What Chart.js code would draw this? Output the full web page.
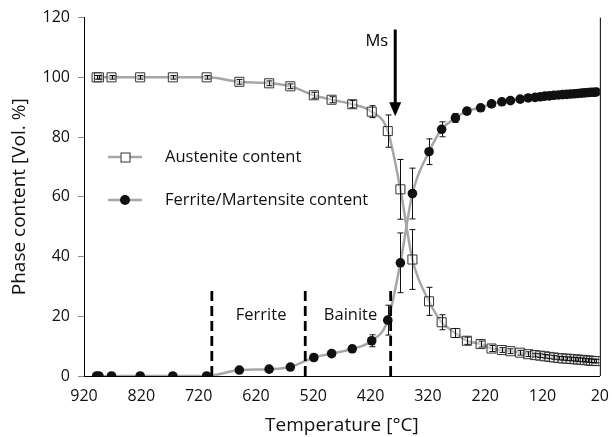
<!DOCTYPE html>
<html>
<head>
<meta charset="utf-8">
<script src="https://cdn.jsdelivr.net/npm/chart.js@4.4.1/dist/chart.umd.min.js"></script>
<style>
  html, body { margin: 0; padding: 0; background: #fff; }
  #wrap { width: 614px; height: 437px; }
</style>
</head>
<body>
<div id="wrap"><canvas id="phaseChart" width="614" height="437"></canvas></div>
<script>
// ── Data ──────────────────────────────────────────
const temps = [898, 894, 872, 822, 765, 706, 649, 597, 560, 519, 488, 452, 418, 390,
  368, 347, 318, 296, 272, 252, 228, 209, 191, 176, 159, 145,
  133, 124, 116, 108, 100, 92, 85, 78, 71, 64, 58, 52, 46, 40, 35, 30, 26];

const austenite = [100, 100, 100, 100, 100, 100, 98.5, 98, 97, 94, 92.5, 91, 88.5, 82,
  62.5, 39, 25, 18, 14.4, 11.8, 10.7, 9.2, 8.7, 8.3, 7.8, 7.3,
  7.0, 6.8, 6.6, 6.4, 6.2, 6.0, 5.9, 5.8, 5.7, 5.6, 5.5, 5.4, 5.3, 5.2, 5.1, 5.0, 5.0];

const ferrite = [0, 0, 0, 0, 0, 0, 2.0, 2.3, 3.0, 6.2, 7.5, 9.1, 11.8, 18.7,
  37.9, 61.1, 75.1, 82.6, 86.4, 88.7, 89.8, 91.1, 91.8, 92.2, 92.7, 93.1,
  93.3, 93.5, 93.7, 93.8, 94.0, 94.1, 94.2, 94.3, 94.4, 94.5, 94.6, 94.7, 94.8, 94.9, 95.0, 95.0, 95.1];

const austeniteErr = [0.6, 0.6, 0.6, 0.6, 0.6, 0.6, 0.8, 0.8, 0.8, 1.0, 1.0, 1.2, 2.0, 5.4,
  10, 10, 4.7, 2.5, 1.5, 1.2, 1.0, 1.0, 0.8, 0.8, 0.8, 0.8,
  0.6, 0.6, 0.6, 0.6, 0.6, 0.6, 0.6, 0.6, 0.6, 0.6, 0.6, 0.6, 0.6, 0.6, 0.6, 0.6, 0.6];

const ferriteErr = [0, 0, 0, 0, 0, 0, 0.5, 0.5, 0.5, 0.8, 0.8, 1.0, 2.0, 5.0,
  10, 8.5, 4.3, 2.5, 1.5, 1.0, 0.8, 0.8, 0.6, 0.6, 0.6, 0.6,
  0.5, 0.5, 0.5, 0.5, 0.5, 0.5, 0.5, 0.5, 0.5, 0.5, 0.5, 0.5, 0.5, 0.5, 0.5, 0.5, 0.5];

const xTicks = [920, 820, 720, 620, 520, 420, 320, 220, 120, 20];
const yTicks = [0, 20, 40, 60, 80, 100, 120];

// transformation boundaries (dashed lines) and region labels
const boundaryTemps = [697, 534, 385];
const boundaryTops = [30, 29, 29];
const regionLabels = ['Ferrite', 'Bainite'];
const regionTemps = [611, 455];
const regionY = [20.3, 20.3];

// Ms arrow
const msTemp = 377;
const msFrom = 116;
const msTo = 87;

const FONT = "'Open Sans', 'Noto Sans', sans-serif";
const LINE_GREY = '#a6a6a6';

const pts = (ys) => temps.map((t, i) => ({ x: t, y: ys[i] }));

// ── Error bars ─────────────────────────────────────
const errorBars = {
  id: 'errorBars',
  afterDatasetsDraw(chart) {
    const { ctx, scales: { x, y } } = chart;
    const sets = [austeniteErr, ferriteErr];
    ctx.save();
    ctx.strokeStyle = '#111';
    ctx.lineWidth = 1;
    chart.data.datasets.forEach((ds, di) => {
      const errs = sets[di];
      ds.data.forEach((p, i) => {
        const e = errs[i];
        if (!e) return;
        const px = Math.round(x.getPixelForValue(p.x)) + 0.5;
        const top = y.getPixelForValue(p.y + e);
        const bot = y.getPixelForValue(p.y - e);
        ctx.beginPath();
        ctx.moveTo(px, top); ctx.lineTo(px, bot);
        ctx.moveTo(px - 3, top); ctx.lineTo(px + 3, top);
        ctx.moveTo(px - 3, bot); ctx.lineTo(px + 3, bot);
        ctx.stroke();
      });
    });
    ctx.restore();
  },
};

// ── Annotations: dashed lines, labels, Ms arrow, legend ──
const annotations = {
  id: 'annotations',
  afterDraw(chart) {
    const { ctx, scales: { x, y }, chartArea } = chart;
    ctx.save();

    // dashed boundaries
    ctx.strokeStyle = '#000';
    ctx.lineWidth = 2.8;
    ctx.setLineDash([10, 5]);
    boundaryTemps.forEach((t, i) => {
      const px = x.getPixelForValue(t);
      ctx.beginPath();
      ctx.moveTo(px, y.getPixelForValue(0));
      ctx.lineTo(px, y.getPixelForValue(boundaryTops[i]));
      ctx.stroke();
    });
    ctx.setLineDash([]);

    // region labels
    ctx.fillStyle = '#111';
    ctx.font = `16.5px ${FONT}`;
    ctx.textAlign = 'center';
    ctx.textBaseline = 'middle';
    regionLabels.forEach((txt, i) => {
      ctx.fillText(txt, x.getPixelForValue(regionTemps[i]), y.getPixelForValue(regionY[i]));
    });

    // Ms arrow
    const ax = x.getPixelForValue(msTemp);
    const ay0 = y.getPixelForValue(msFrom);
    const ay1 = y.getPixelForValue(msTo);
    ctx.strokeStyle = '#000';
    ctx.lineWidth = 3;
    ctx.beginPath();
    ctx.moveTo(ax, ay0); ctx.lineTo(ax, ay1 - 12);
    ctx.stroke();
    ctx.fillStyle = '#000';
    ctx.beginPath();
    ctx.moveTo(ax - 6, ay1 - 14); ctx.lineTo(ax + 6, ay1 - 14); ctx.lineTo(ax, ay1);
    ctx.closePath();
    ctx.fill();
    ctx.font = `16.5px ${FONT}`;
    ctx.textAlign = 'right';
    ctx.fillText('Ms', ax - 7, y.getPixelForValue(112));

    // legend
    const items = chart.data.datasets;
    const lx = chartArea.left + 24;
    const ly = [157, 200];
    items.forEach((ds, i) => {
      ctx.strokeStyle = LINE_GREY;
      ctx.lineWidth = 2.5;
      ctx.beginPath();
      ctx.moveTo(lx, ly[i]); ctx.lineTo(lx + 34, ly[i]);
      ctx.stroke();
      const cx = lx + 17;
      if (i === 0) {
        ctx.fillStyle = '#fff';
        ctx.fillRect(cx - 4.5, ly[i] - 4.5, 9, 9);
        ctx.strokeStyle = '#333';
        ctx.lineWidth = 1;
        ctx.strokeRect(cx - 4.5 + 0.5, ly[i] - 4.5 + 0.5, 9, 9);
      } else {
        ctx.fillStyle = '#111';
        ctx.beginPath();
        ctx.arc(cx, ly[i], 5, 0, Math.PI * 2);
        ctx.fill();
      }
      ctx.fillStyle = '#111';
      ctx.font = `16.5px ${FONT}`;
      ctx.textAlign = 'left';
      ctx.fillText(ds.label, lx + 57, ly[i]);
    });

    // right frame line
    ctx.strokeStyle = '#000';
    ctx.lineWidth = 1;
    ctx.beginPath();
    ctx.moveTo(chartArea.right + 0.5, chartArea.top);
    ctx.lineTo(chartArea.right + 0.5, chartArea.bottom);
    ctx.stroke();

    ctx.restore();
  },
};

new Chart(document.getElementById('phaseChart'), {
  type: 'line',
  data: {
    datasets: [
      {
        label: 'Austenite content',
        data: pts(austenite),
        borderColor: LINE_GREY,
        borderWidth: 2.5,
        pointStyle: 'rect',
        pointRadius: 6.4,
        pointBackgroundColor: 'rgba(255,255,255,0.35)',
        pointBorderColor: '#333',
        pointBorderWidth: 1,
        cubicInterpolationMode: 'monotone',
        fill: false,
        order: 1,
      },
      {
        label: 'Ferrite/Martensite content',
        data: pts(ferrite),
        borderColor: LINE_GREY,
        borderWidth: 2.5,
        pointStyle: 'circle',
        pointRadius: 4.8,
        pointBackgroundColor: '#111',
        pointBorderColor: '#111',
        pointBorderWidth: 0,
        cubicInterpolationMode: 'monotone',
        fill: false,
        order: 0,
      },
    ],
  },
  options: {
    responsive: false,
    animation: false,
    layout: { padding: { top: 10, right: 9, left: 8, bottom: 0 } },
    plugins: {
      legend: { display: false },
      tooltip: { enabled: false },
    },
    scales: {
      x: {
        type: 'linear',
        reverse: true,
        min: 20,
        max: 920,
        afterBuildTicks: (s) => { s.ticks = xTicks.map(v => ({ value: v })); },
        afterFit: (s) => { s.height = 61; },
        ticks: {
          color: '#111',
          font: { size: 16, family: FONT },
          padding: 5,
          maxRotation: 0,
        },
        grid: { display: false, drawOnChartArea: false, drawTicks: true, tickLength: 6, tickColor: '#888' },
        border: { display: true, color: '#000', width: 1 },
        title: {
          display: true,
          text: 'Temperature [°C]',
          color: '#111',
          font: { size: 19, family: FONT },
          padding: { top: 4, bottom: 0 },
        },
      },
      y: {
        min: 0,
        max: 120,
        afterBuildTicks: (s) => { s.ticks = yTicks.map(v => ({ value: v })); },
        afterFit: (s) => { s.width = 76; },
        ticks: {
          color: '#111',
          font: { size: 16, family: FONT },
          padding: 8,
        },
        grid: { display: true, drawOnChartArea: false, drawTicks: true, tickLength: 6, tickColor: '#888' },
        border: { display: true, color: '#000', width: 1 },
        title: {
          display: true,
          text: 'Phase content [Vol. %]',
          color: '#111',
          font: { size: 19, family: FONT },
          padding: { top: 0, bottom: 2 },
        },
      },
    },
  },
  plugins: [errorBars, annotations],
});
</script>
</body>
</html>
